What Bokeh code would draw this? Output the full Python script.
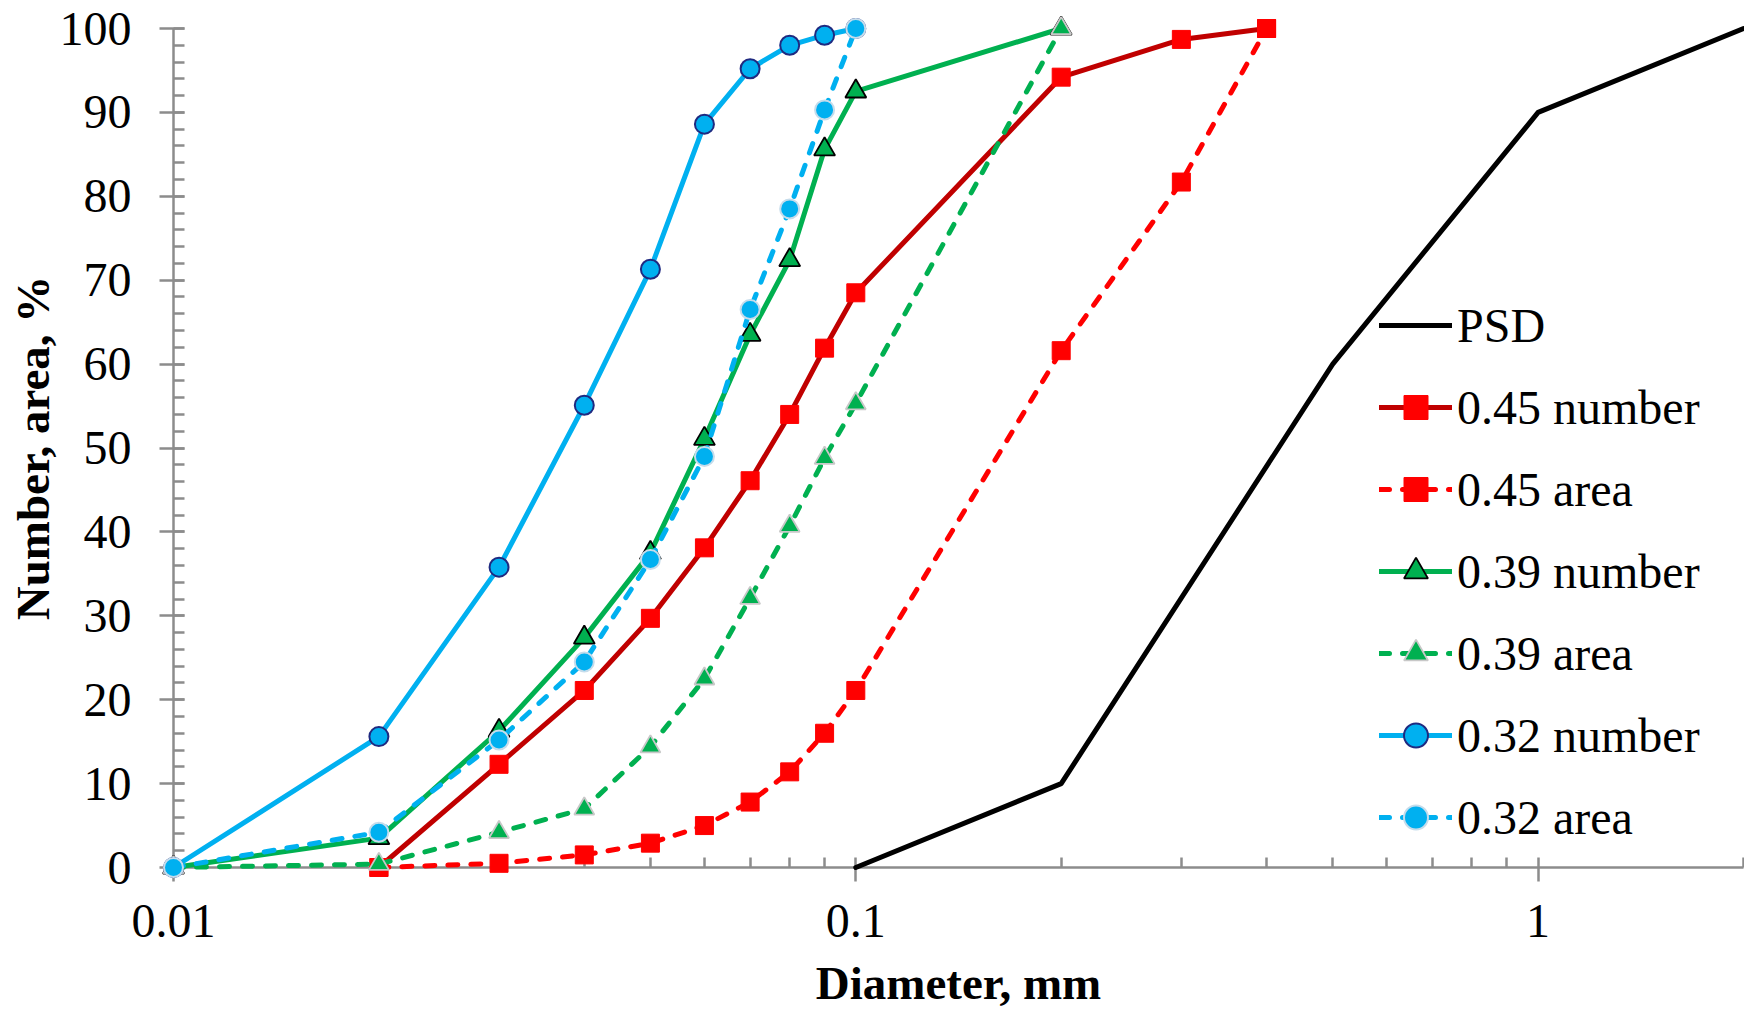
from bokeh.plotting import figure
from bokeh.models import (Range1d, FixedTicker, SingleIntervalTicker, Legend,
                          LegendItem, CustomJSTickFormatter)
from bokeh.embed import file_html
from bokeh.resources import INLINE

# ---------------- data ----------------
diam_psd = [0.1, 0.2, 0.5, 1.0, 2.0]
psd = [0, 10, 60, 90, 100]

diam_045 = [0.02, 0.03, 0.04, 0.05, 0.06, 0.07, 0.08, 0.09, 0.1, 0.2, 0.3, 0.4]
number_045 = [0, 12.3, 21.1, 29.7, 38.1, 46.1, 54.0, 61.9, 68.5, 94.2, 98.7, 100]
area_045 = [0, 0.5, 1.5, 2.9, 5.0, 7.8, 11.4, 16.0, 21.1, 61.6, 81.7, 100]

diam_039 = [0.01, 0.02, 0.03, 0.04, 0.05, 0.06, 0.07, 0.08, 0.09, 0.1, 0.2]
number_039 = [0, 3.5, 16.3, 27.4, 37.5, 51.1, 63.5, 72.4, 85.6, 92.5, 100]
area_039 = [0, 0.4, 4.2, 7.0, 14.4, 22.5, 32.1, 40.7, 48.8, 55.3, 100]

diam_032 = [0.01, 0.02, 0.03, 0.04, 0.05, 0.06, 0.07, 0.08, 0.09, 0.1]
number_032 = [0, 15.6, 35.8, 55.1, 71.3, 88.6, 95.2, 98.0, 99.2, 100]
area_032 = [0, 4.2, 15.2, 24.5, 36.7, 49.0, 66.5, 78.5, 90.3, 100]

x_major_ticks = [0.01, 0.1, 1]
x_minor_ticks = [0.02, 0.03, 0.04, 0.05, 0.06, 0.07, 0.08, 0.09,
                 0.2, 0.3, 0.4, 0.5, 0.6, 0.7, 0.8, 0.9, 2]

x_title = "Diameter, mm"
y_title = "Number, area, %"

# ---------------- figure ----------------
FONT = "Liberation Serif"
AXIS_GRAY = "#8C8C8C"

p = figure(width=1744, height=1011, x_axis_type="log",
           x_range=Range1d(0.01, 2.0), y_range=Range1d(0, 100),
           output_backend="svg", toolbar_location=None, title=None,
           min_border_left=173, min_border_right=1, min_border_top=28,
           min_border_bottom=143)
p.xgrid.visible = False
p.ygrid.visible = False
p.outline_line_color = None
p.background_fill_color = "white"
p.border_fill_color = "white"

xa = p.xaxis[0]
xa.ticker = FixedTicker(ticks=x_major_ticks, minor_ticks=x_minor_ticks)
xa.formatter = CustomJSTickFormatter(code="return tick.toString();")
xa.major_tick_in = 10
xa.major_tick_out = 14
xa.minor_tick_in = 10
xa.minor_tick_out = 0
xa.major_label_standoff = 23
xa.axis_label = x_title
xa.axis_label_standoff = 17

ya = p.yaxis[0]
ya.ticker = SingleIntervalTicker(interval=10, num_minor_ticks=5)
ya.major_tick_in = 11
ya.major_tick_out = 14
ya.minor_tick_in = 11
ya.minor_tick_out = 0
ya.major_label_standoff = 28
ya.axis_label = y_title
ya.axis_label_standoff = -2

for ax in (xa, ya):
    ax.axis_line_color = AXIS_GRAY
    ax.axis_line_width = 2.5
    ax.major_tick_line_color = AXIS_GRAY
    ax.major_tick_line_width = 2.5
    ax.minor_tick_line_color = AXIS_GRAY
    ax.minor_tick_line_width = 2.5
    ax.major_label_text_font = FONT
    ax.major_label_text_font_size = "48px"
    ax.major_label_text_color = "black"
    ax.axis_label_text_font = FONT
    ax.axis_label_text_font_style = "bold"
    ax.axis_label_text_font_size = "47px"
    ax.axis_label_text_color = "black"

LW = 5
DASH = "10 13"

items = []
renderers = []

# PSD
r = p.line(diam_psd, psd, line_color="black", line_width=LW,
           line_join="round", line_cap="round")
renderers.append(r)
items.append(LegendItem(label="PSD", renderers=[r]))

# 0.45 number
l1 = p.line(diam_045, number_045, line_color="#C00000", line_width=LW,
            line_join="round", line_cap="round")
m1 = p.scatter(diam_045, number_045, marker="square", size=18,
               fill_color="#FF0000", line_color="#FF0000", line_width=1)
renderers += [l1, m1]
items.append(LegendItem(label="0.45 number", renderers=[l1, m1]))

# 0.45 area
l2 = p.line(diam_045, area_045, line_color="#FF0000", line_width=LW,
            line_dash=DASH, line_cap="round")
m2 = p.scatter(diam_045, area_045, marker="square", size=18,
               fill_color="#FF0000", line_color="#FF0000", line_width=1)
renderers += [l2, m2]
items.append(LegendItem(label="0.45 area", renderers=[l2, m2]))

# 0.39 number
l3 = p.line(diam_039, number_039, line_color="#00B050", line_width=LW,
            line_join="round", line_cap="round")
m3 = p.scatter(diam_039, number_039, marker="triangle", size=21,
               fill_color="#00B050", line_color="black", line_width=1.8)
renderers += [l3, m3]
items.append(LegendItem(label="0.39 number", renderers=[l3, m3]))

# 0.39 area
l4 = p.line(diam_039, area_039, line_color="#00B050", line_width=LW,
            line_dash=DASH, line_cap="round")
m4 = p.scatter(diam_039, area_039, marker="triangle", size=20,
               fill_color="#00B050", line_color="#C8C8C8", line_width=1.8)
renderers += [l4, m4]
items.append(LegendItem(label="0.39 area", renderers=[l4, m4]))

# 0.32 number
l5 = p.line(diam_032, number_032, line_color="#00B0F0", line_width=LW,
            line_join="round", line_cap="round")
m5 = p.scatter(diam_032, number_032, marker="circle", size=19,
               fill_color="#00B0F0", line_color="#1F2A80", line_width=2)
renderers += [l5, m5]
items.append(LegendItem(label="0.32 number", renderers=[l5, m5]))

# 0.32 area
l6 = p.line(diam_032, area_032, line_color="#00B0F0", line_width=LW,
            line_dash=DASH, line_cap="round")
m6 = p.scatter(diam_032, area_032, marker="circle", size=19,
               fill_color="#00B0F0", line_color="#C5DCEB", line_width=2)
renderers += [l6, m6]
items.append(LegendItem(label="0.32 area", renderers=[l6, m6]))

# draw data above the frame clip so edge markers are whole
for rr in renderers:
    rr.level = "overlay"

legend = Legend(items=items, location=(1206, 20), padding=0, margin=0,
                spacing=22, glyph_width=73, glyph_height=60, label_height=60,
                label_standoff=5, label_text_font=FONT,
                label_text_font_size="48px", label_text_color="black",
                border_line_color=None, background_fill_alpha=0)
p.add_layout(legend)

open("out.html", "w").write(file_html(p, INLINE))
